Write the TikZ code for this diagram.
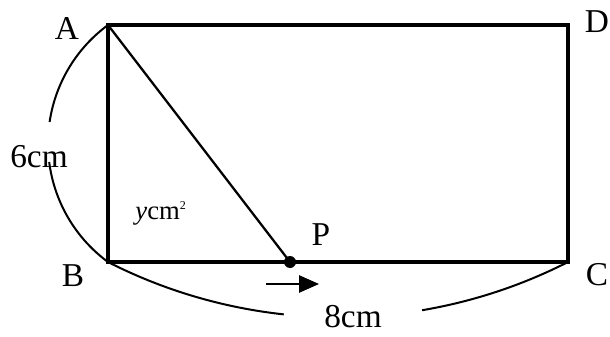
\documentclass[tikz,border=0pt]{standalone}
\usepackage{fontspec}
\setmainfont{Liberation Serif}
\usetikzlibrary{arrows.meta}

\begin{document}
\begin{tikzpicture}[x=0.75pt,y=0.75pt,
    lbl/.style={font=\fontsize{25}{28}\selectfont, inner sep=1pt},
    edge/.style={line width=2.8pt},
    dim/.style={line width=1.5pt}]
    \useasboundingbox (0,0) rectangle (610,336);

    \coordinate (A) at (108,311);
    \coordinate (D) at (568,311);
    \coordinate (B) at (108,74);
    \coordinate (C) at (568,74);
    \coordinate (P) at (290,74);

    \node (la) [lbl] at (67,308) {A};
    \node (ld) [lbl] at (597,314) {D};
    \node (lb) [lbl] at (73,60) {B};
    \node (lc) [lbl] at (597,61) {C};
    \node (lp) [lbl] at (321,101) {P};
    \node (area) [font=\fontsize{20}{22}\selectfont] at (161,123) {\textit{y}cm\textsuperscript{\small 2}};
    \node (six) [lbl] at (39,179) {6cm};
    \node (eight) [lbl] at (353,19) {8cm};

    \draw[edge] (A) -- (D) -- (C) -- (B) -- cycle;
    \draw[line width=1.7pt] (A) -- (P);
    \fill (P) circle (4.5pt);

    \draw[dim] (A) arc[start angle=126.3, end angle=171.6, radius=147];
    \draw[dim] (B) arc[start angle=233.7, end angle=187.2, radius=147];
    \draw[dim] (B) arc[start angle=243, end angle=263.8, radius=508];
    \draw[dim] (C) arc[start angle=297, end angle=279.6, radius=508];

    \coordinate (m0) at (266,52);
    \coordinate (m1) at (319,52);
    \draw[line width=1.1pt, -{Triangle[length=15pt,width=13pt]}] (m0) -- (m1);
\end{tikzpicture}
\end{document}
